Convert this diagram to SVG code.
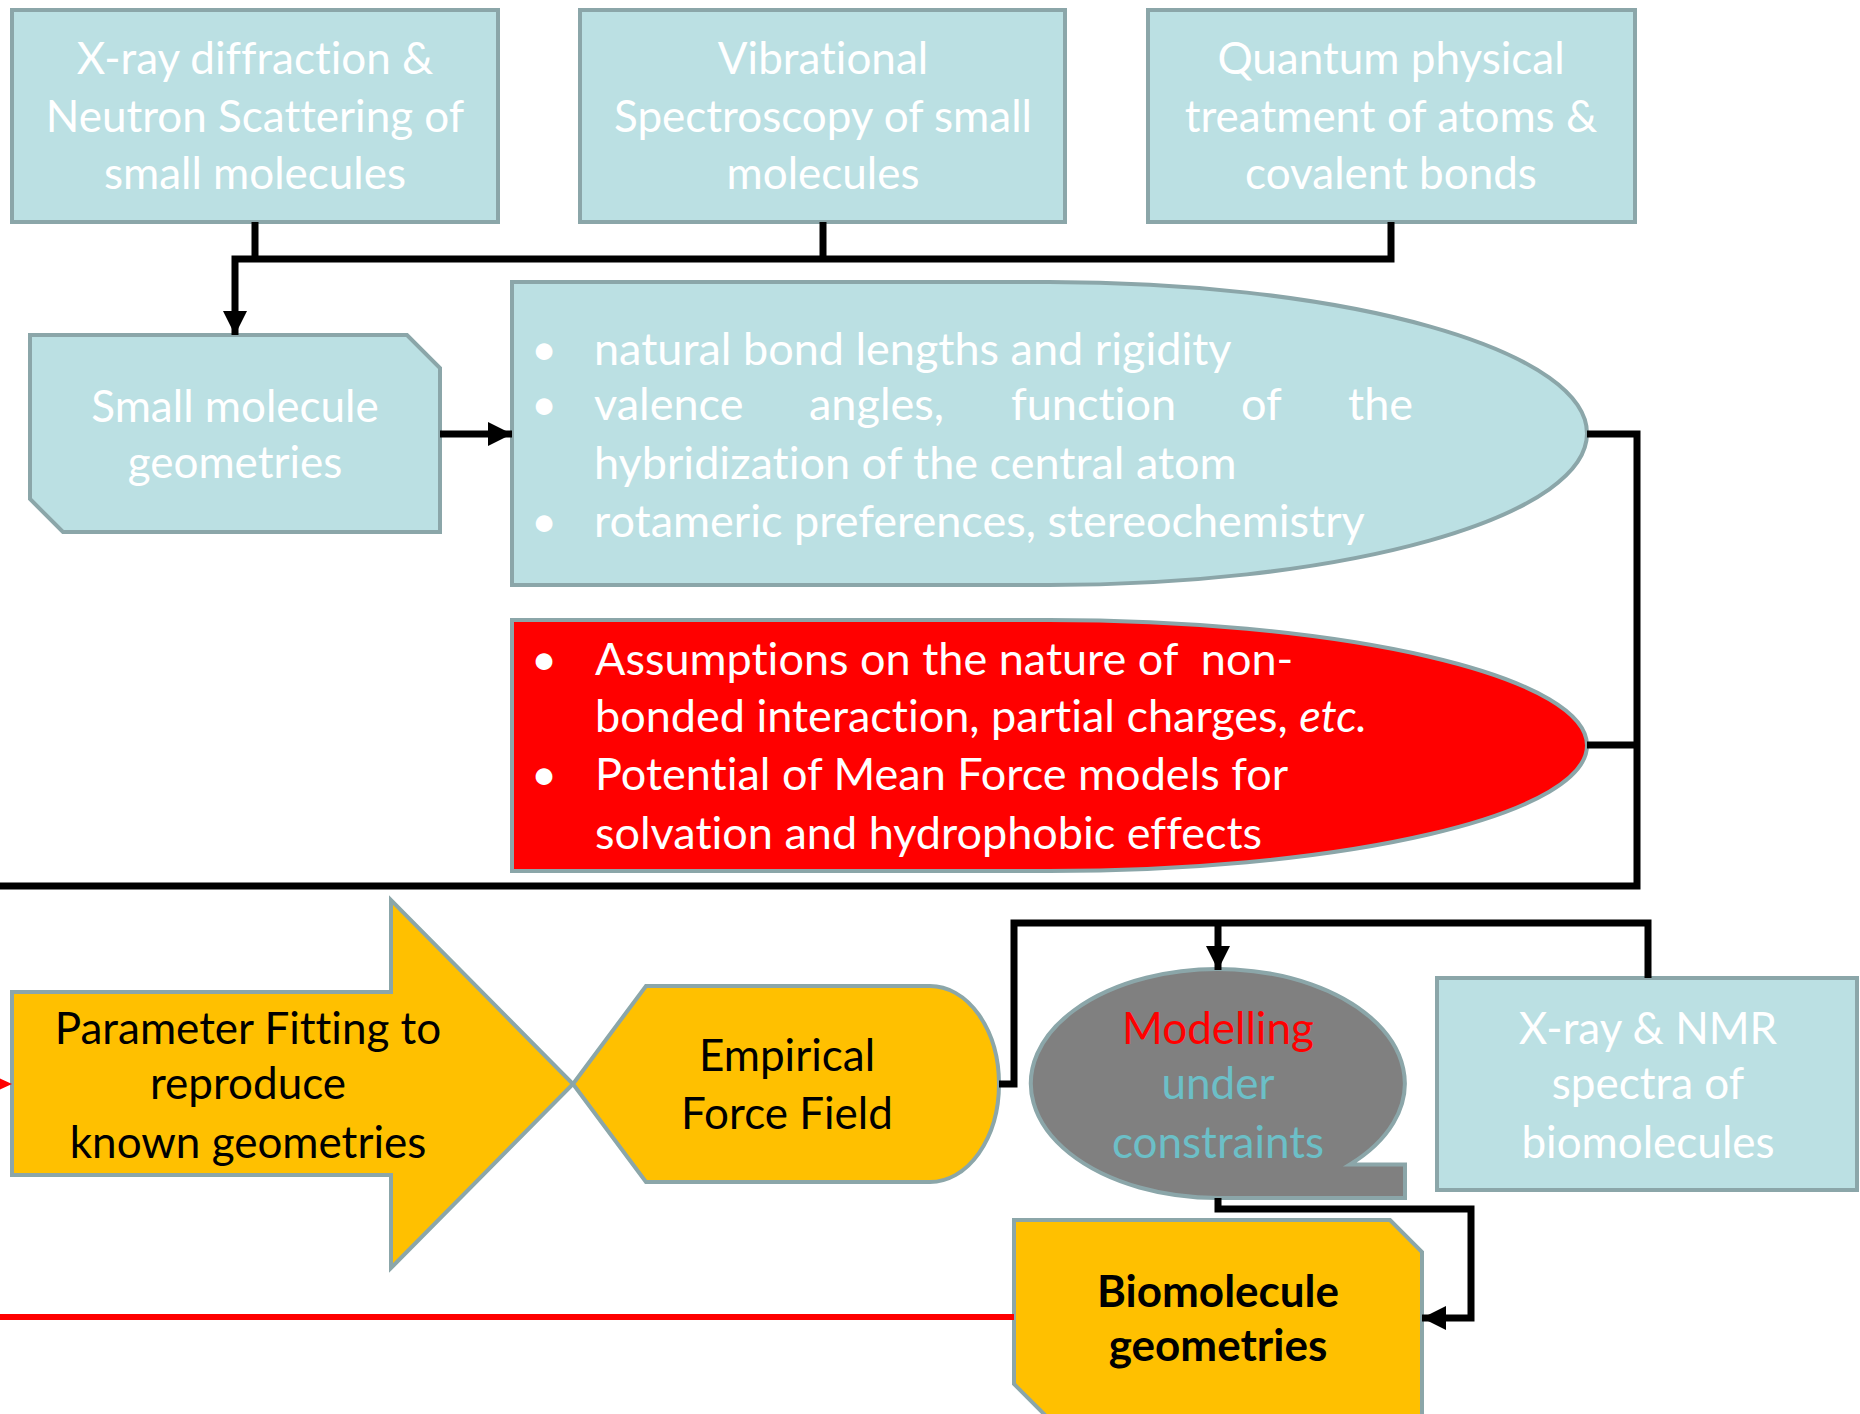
<svg xmlns="http://www.w3.org/2000/svg" width="1860" height="1414" viewBox="0 0 1860 1414">
<style>
.lb{fill:#BBE0E3;stroke:#8BA6A9;stroke-width:4}
.yl{fill:#FFC000;stroke:#8BA6A9;stroke-width:4}
.rd{fill:#FF0000;stroke:#8BA6A9;stroke-width:4}
.gr{fill:#808080;stroke:#8BA6A9;stroke-width:4}
text{font-family:Lato,"Open Sans","Liberation Sans",sans-serif;font-size:44px;font-variant-ligatures:none}
.b{font-size:45px}
.w{fill:#FFFFFF}
.k{fill:#000000}
.c{text-anchor:middle}
.conn{fill:none;stroke:#000;stroke-width:7;stroke-linejoin:miter}
</style>
<defs>
<marker id="ah" markerUnits="userSpaceOnUse" markerWidth="24" markerHeight="24" refX="24" refY="12" orient="auto">
<path d="M0,0 L24,12 L0,24 Z" fill="#000"/>
</marker>
</defs>
<rect width="1860" height="1414" fill="#FFFFFF"/>

<g id="n-xray">
<rect class="lb" x="12" y="10" width="486" height="212"/>
<text class="w c" x="255" y="74">X-ray diffraction &amp;</text>
<text class="w c" x="255" y="132">Neutron Scattering of</text>
<text class="w c" x="255" y="189">small molecules</text>
</g>
<g id="n-vib">
<rect class="lb" x="580" y="10" width="485" height="212"/>
<text class="w c" x="823" y="74">Vibrational</text>
<text class="w c" x="823" y="132">Spectroscopy of small</text>
<text class="w c" x="823" y="189">molecules</text>
</g>
<g id="n-quantum">
<rect class="lb" x="1148" y="10" width="487" height="212"/>
<text class="w c" x="1391" y="74">Quantum physical</text>
<text class="w c" x="1391" y="132">treatment of atoms &amp;</text>
<text class="w c" x="1391" y="189">covalent bonds</text>
</g>
<g id="n-small">
<path class="lb" d="M30,335 H407 L440,368 V532 H63 L30,499 Z"/>
<text class="w c" x="235" y="422">Small molecule</text>
<text class="w c" x="235" y="478">geometries</text>
</g>
<g id="n-bonds">
<path class="lb" d="M512,282 H1049 A538,151.5 0 0 1 1049,585 H512 Z"/>
<text class="w b" x="531" y="365">•</text>
<text class="w b" x="594" y="365">natural bond lengths and rigidity</text>
<text class="w b" x="531" y="420">•</text>
<text class="w b" x="594" y="420">valence</text>
<text class="w b" x="809" y="420">angles,</text>
<text class="w b" x="1011" y="420">function</text>
<text class="w b" x="1241" y="420">of</text>
<text class="w b" x="1348" y="420">the</text>
<text class="w b" x="594" y="479">hybridization of the central atom</text>
<text class="w b" x="531" y="537">•</text>
<text class="w b" x="594" y="537">rotameric preferences, stereochemistry</text>
</g>
<g id="n-assumptions">
<path class="rd" d="M512,620 H1049 A538,125.5 0 0 1 1049,871 H512 Z"/>
<text class="w b" x="531" y="675">•</text>
<text class="w b" x="595" y="675" xml:space="preserve">Assumptions on the nature of  non-</text>
<text class="w b" x="595" y="732">bonded interaction, partial charges, <tspan font-style="italic">etc.</tspan></text>
<text class="w b" x="531" y="790">•</text>
<text class="w b" x="595" y="790">Potential of Mean Force models for</text>
<text class="w b" x="595" y="849">solvation and hydrophobic effects</text>
</g>
<g id="n-fitting">
<path class="yl" d="M12,992 H391 V900 L573,1084 L391,1268 V1175 H12 Z"/>
<text class="k c" x="248" y="1044">Parameter Fitting to</text>
<text class="k c" x="248" y="1099">reproduce</text>
<text class="k c" x="248" y="1158">known geometries</text>
</g>
<g id="n-forcefield">
<path class="yl" d="M573,1084 L646,986 H930 A69,98 0 0 1 930,1182 H646 Z"/>
<text class="k c" x="787" y="1071">Empirical</text>
<text class="k c" x="787" y="1129">Force Field</text>
</g>
<g id="n-modelling">
<path class="gr" d="M1218,1198 A187,114.5 0 1 1 1350,1164.5 H1405 V1198 Z"/>
<text class="c" x="1218" y="1044" fill="#FF0000">Modelling</text>
<text class="c" x="1218" y="1099" fill="#6CBFC7">under</text>
<text class="c" x="1218" y="1158" fill="#6CBFC7">constraints</text>
</g>
<g id="n-nmr">
<rect class="lb" x="1437" y="978" width="420" height="212"/>
<text class="w c" x="1648" y="1044">X-ray &amp; NMR</text>
<text class="w c" x="1648" y="1099">spectra of</text>
<text class="w c" x="1648" y="1158">biomolecules</text>
</g>
<g id="n-bio">
<path class="yl" d="M1014,1220 H1390 L1422,1252 V1416 H1046 L1014,1384 Z"/>
<text class="k c" x="1218" y="1307" font-weight="bold">Biomolecule</text>
<text class="k c" x="1218" y="1361" font-weight="bold">geometries</text>
</g>

<g id="connectors">
<path class="conn" d="M255,222 V259"/>
<path class="conn" d="M823,222 V259"/>
<path class="conn" d="M1391,222 V259 H235 V335" marker-end="url(#ah)"/>
<path class="conn" d="M440,434 H512" marker-end="url(#ah)"/>
<path class="conn" d="M1587,434 H1637 V886 H-10"/>
<path class="conn" d="M1587,745 H1637"/>
<path class="conn" d="M999,1084 H1014 V923 H1648 V978"/>
<path class="conn" d="M1218,923 V970" marker-end="url(#ah)"/>
<path class="conn" d="M1218,1198 V1209 H1471 V1318 H1422" marker-end="url(#ah)"/>
<path d="M-10,1317 H1014" fill="none" stroke="#FF0000" stroke-width="6"/>
<path d="M-8,1075 L12,1084 L-8,1093 Z" fill="#FF0000"/>
</g>
</svg>
